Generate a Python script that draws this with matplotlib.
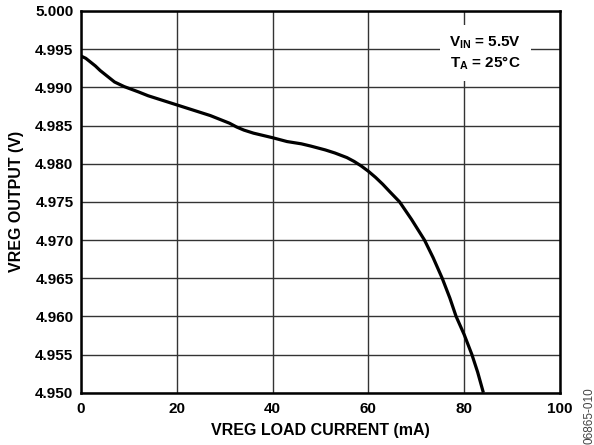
import matplotlib
matplotlib.use("Agg")
import matplotlib.pyplot as plt

plt.rcParams['font.family'] = ['Liberation Sans', 'DejaVu Sans']
plt.rcParams['font.weight'] = 'bold'
plt.rcParams['mathtext.fontset'] = 'custom'
plt.rcParams['mathtext.rm'] = 'Liberation Sans:bold'
plt.rcParams['mathtext.bf'] = 'Liberation Sans:bold'
plt.rcParams['mathtext.it'] = 'Liberation Sans:bold'

# load current (mA) vs regulator output (V)
load_ma = [0, 1, 2, 3, 4, 5, 6, 7, 9, 12, 14, 16, 18, 20, 22, 25, 27, 29,
           31, 32.5, 34, 36, 40, 43, 46, 48, 51, 53, 55.5, 57, 58.5,
           60, 61.5, 63, 64.5, 66.5, 69, 71.7, 73.5, 75.4, 77, 78.3,
           80, 81.6, 82.8, 84]
vreg_v = [4.9941, 4.9938, 4.9933, 4.9928, 4.9922, 4.9917, 4.9912, 4.9907,
          4.9901, 4.9894, 4.9889, 4.9885, 4.9881, 4.9877, 4.9873, 4.9867,
          4.9863, 4.9858, 4.9853, 4.9848, 4.9844, 4.9840, 4.9834, 4.9829,
          4.9826, 4.9823, 4.9818, 4.9814, 4.9808, 4.9803, 4.9797,
          4.9790, 4.9782, 4.9773, 4.9763, 4.9750, 4.9727, 4.9700, 4.9677,
          4.9650, 4.9624, 4.9600, 4.9576, 4.9550, 4.9527, 4.9500]

xticks = [0, 20, 40, 60, 80, 100]
yticks = [4.950, 4.955, 4.960, 4.965, 4.970, 4.975, 4.980, 4.985, 4.990, 4.995, 5.000]

fig = plt.figure(figsize=(5.94, 4.45), dpi=100)
ax = fig.add_axes([0.1364, 0.1175, 0.8064, 0.8578])

ax.plot(load_ma, vreg_v, color='black', lw=2.3, solid_capstyle='butt', zorder=3)

ax.set_xlim(0, 100)
ax.set_ylim(4.950, 5.000)
ax.set_xticks(xticks)
ax.set_yticks(yticks)
ax.set_xticklabels([str(t) for t in xticks])
ax.set_yticklabels(['%.3f' % t for t in yticks])
ax.tick_params(length=0, labelsize=11)
ax.tick_params(axis='x', pad=6.5)
ax.tick_params(axis='y', pad=5.5)
ax.grid(True, color='#333333', lw=1.0)
ax.set_axisbelow(True)
for s in ax.spines.values():
    s.set_linewidth(1.8)
    s.set_color('black')

ax.set_xlabel('VREG LOAD CURRENT (mA)', fontsize=11.5, fontweight='bold', labelpad=5)
ax.set_ylabel('VREG OUTPUT (V)', fontsize=11.5, fontweight='bold', labelpad=8)

ax.text(84.4, 4.9945, 'V$_{\\mathrm{IN}}$ = 5.5V\nT$_{\\mathrm{A}}$ = 25°C',
        fontsize=11, fontweight='bold', ha='center', va='center', linespacing=1.25,
        bbox=dict(facecolor='white', edgecolor='none', pad=7), zorder=4)

fig.text(0.9916, 0.065, '06865-010', rotation=90, fontsize=8.5, color='#444444',
         fontweight='normal', ha='center', va='center')

fig.savefig('out.png', dpi=100)
